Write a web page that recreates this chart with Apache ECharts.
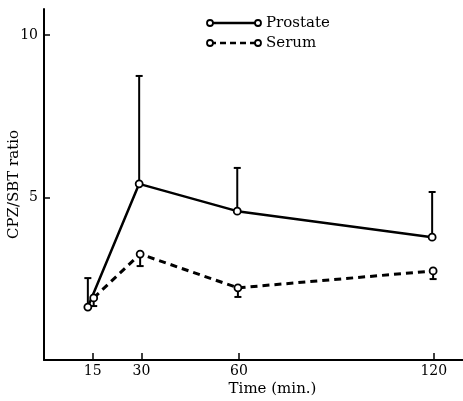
<!DOCTYPE html>
<html><head><meta charset="utf-8">
<script src="https://cdn.jsdelivr.net/npm/echarts@6/dist/echarts.min.js"></script>
<style>html,body{margin:0;padding:0;background:#fff}#c{width:463px;height:401px}</style>
</head><body><div id="c"></div>
<script>
// Data
const timeTicks = [15, 30, 60, 120];
const prostateX = [13.5, 29.3, 59.5, 119.5];
const prostateY = [1.63, 5.42, 4.58, 3.78];
const prostateErrTop = [2.52, 8.74, 5.91, 5.17];
const serumX = [15.3, 29.6, 59.7, 119.8];
const serumY = [1.91, 3.26, 2.22, 2.74];
const serumErrBottom = [1.66, 2.89, 1.94, 2.49];
const yTicks = [5, 10];

const FONT = 'DejaVu Serif';
const prostateData = prostateX.map((x, i) => [x, prostateY[i]]);
const serumData = serumX.map((x, i) => [x, serumY[i]]);
const prostateErr = prostateX.map((x, i) => [x, prostateY[i], prostateErrTop[i]]);
const serumErr = serumX.map((x, i) => [x, serumY[i], serumErrBottom[i]]);

function errRender(params, api) {
  const x = api.value(0), y = api.value(1), y2 = api.value(2);
  const p1 = api.coord([x, y]);
  const p2 = api.coord([x, y2]);
  const st = { stroke: '#000', lineWidth: 2 };
  return {
    type: 'group',
    children: [
      { type: 'line', shape: { x1: p1[0], y1: p1[1], x2: p2[0], y2: p2[1] }, style: st },
      { type: 'line', shape: { x1: p2[0] - 3.5, y1: p2[1], x2: p2[0] + 3.5, y2: p2[1] }, style: st }
    ]
  };
}

const chart = echarts.init(document.getElementById('c'), null, { renderer: 'canvas' });
const legendItems = [
  { name: 'Prostate', y: 23, dash: null },
  { name: 'Serum', y: 43, dash: [6, 4] }
];
const graphics = [];
legendItems.forEach(it => {
  graphics.push({ type: 'line', shape: { x1: 210, y1: it.y, x2: 258, y2: it.y },
    style: { stroke: '#000', lineWidth: 2.5, lineDash: it.dash } });
  graphics.push({ type: 'circle', shape: { cx: 210, cy: it.y, r: 3 }, style: { fill: '#fff', stroke: '#000', lineWidth: 1.8 } });
  graphics.push({ type: 'circle', shape: { cx: 258, cy: it.y, r: 3 }, style: { fill: '#fff', stroke: '#000', lineWidth: 1.8 } });
  graphics.push({ type: 'text', x: 266, y: it.y, style: { text: it.name, font: '15px "' + FONT + '"', fill: '#000', textVerticalAlign: 'middle' } });
});

chart.setOption({
  animation: false,
  backgroundColor: '#fff',
  graphic: graphics,
  grid: { left: 44, right: 0, top: 9, bottom: 41, containLabel: false, outerBoundsMode: 'none' },
  xAxis: {
    type: 'value', min: 0, max: 129,
    name: 'Time (min.)', nameLocation: 'middle', nameGap: 22, nameMoveOverlap: false,
    nameTextStyle: { fontFamily: FONT, fontSize: 15, color: '#000', padding: [0, 0, 0, 38] },
    axisLine: { lineStyle: { color: '#000', width: 2 } },
    axisTick: { inside: true, length: 7, lineStyle: { color: '#000', width: 1.5 }, customValues: timeTicks },
    axisLabel: { fontFamily: FONT, fontSize: 14, color: '#000', margin: 4, customValues: timeTicks },
    splitLine: { show: false }
  },
  yAxis: {
    type: 'value', min: 0, max: 10.8,
    name: 'CPZ/SBT ratio', nameLocation: 'middle', nameGap: 22, nameMoveOverlap: false,
    nameTextStyle: { fontFamily: FONT, fontSize: 15, color: '#000' },
    axisLine: { lineStyle: { color: '#000', width: 2 } },
    axisTick: { inside: true, length: 6, lineStyle: { color: '#000', width: 1.5 }, customValues: yTicks },
    axisLabel: { fontFamily: FONT, fontSize: 14, color: '#000', margin: 6, customValues: yTicks },
    splitLine: { show: false }
  },
  series: [
    { type: 'custom', name: 'ProstateErr', renderItem: errRender, data: prostateErr, z: 1 },
    { type: 'custom', name: 'SerumErr', renderItem: errRender, data: serumErr, z: 1 },
    {
      type: 'line', name: 'Prostate', data: prostateData, z: 3,
      symbol: 'circle', symbolSize: 7, showAllSymbol: true,
      lineStyle: { color: '#000', width: 2.5 },
      itemStyle: { color: '#fff', borderColor: '#000', borderWidth: 1.8 }
    },
    {
      type: 'line', name: 'Serum', data: serumData, z: 3,
      symbol: 'circle', symbolSize: 7, showAllSymbol: true,
      lineStyle: { color: '#000', width: 3, type: [7, 5] },
      itemStyle: { color: '#fff', borderColor: '#000', borderWidth: 1.8 }
    }
  ]
});
</script>
</body></html>
